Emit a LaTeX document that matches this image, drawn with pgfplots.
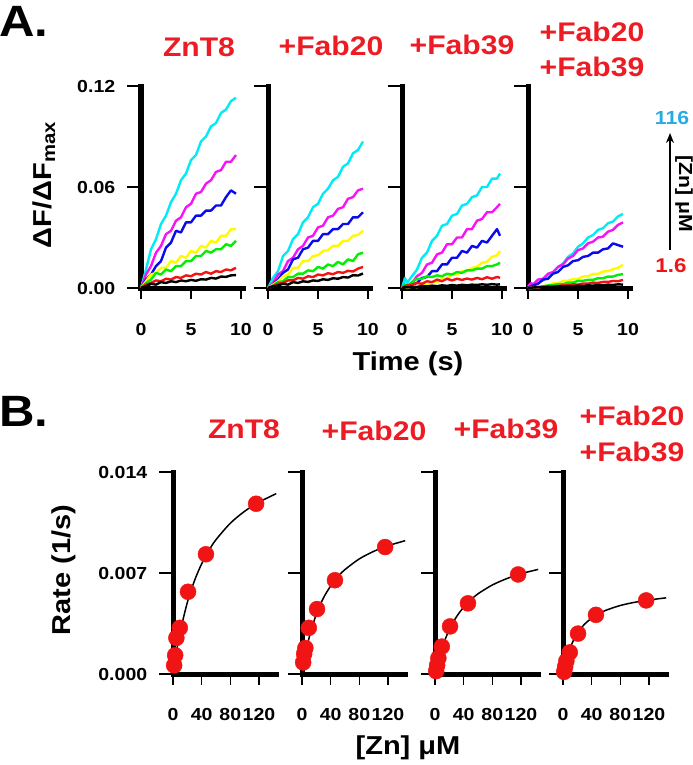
\documentclass[border=0pt]{standalone}
\usepackage{pgfplots}
\pgfplotsset{compat=1.18}
\usepackage{pgfplotstable}
\usepackage{fontspec}
\setmainfont{Liberation Sans}[FakeStretch=1.12]
\usetikzlibrary{arrows.meta}

\definecolor{tcyan}{RGB}{0,235,245}
\definecolor{tmag}{RGB}{245,20,245}
\definecolor{tblue}{RGB}{10,10,235}
\definecolor{tyel}{RGB}{255,250,0}
\definecolor{tgreen}{RGB}{0,240,0}
\definecolor{tred}{RGB}{240,20,20}
\definecolor{ttitle}{RGB}{237,28,36}
\definecolor{tsky}{RGB}{41,171,226}

\newcommand{\fs}[1]{\fontsize{#1}{#1}\selectfont\bfseries}

% time courses (Delta F / Delta F_max in units of 1e-3)
\pgfplotstableread{
t    c    m    b    y    g    r    k
0.0  0    0    0    0    0    0    0
0.5  11   8    5    4    3    2    1
1.0  23   13   8    8    5    3    2.5
1.5  29   21   13   9    9    4.5  2
2.0  38   25   16   12   8    4    3.5
2.5  43   32   24   12   11   5.5  3
3.0  51   34   27   16   10   5    4
3.5  56   40   34   15   13   6.5  3.5
4.0  64   42   33   19   13   6    4.5
4.5  68   48   39   18   16   7.5  4
5.0  76   50   39   22   16   7    4.8
5.5  79   56   43   21   19   8.5  4.3
6.0  87   57   43   25   19   8    5.2
6.5  90   62   46   24   22   9.5  5
7.0  96   64   46   28   21   8.5  6
7.5  98   69   49   27   23   10   5.6
8.0  104  70   49   31   23   9.5  6.8
8.5  106  75   54   31   26   11   6.6
9.0  111  75   58   35   25   10.5 7.5
9.5  113  79   56   35   28   12   7.7
}\tA
\pgfplotstableread{
t    c   m   b   y    g    r    k
0.0  0   0   0   0    0    0    0
0.5  6   3   2   2    1.5  1    1
1.0  10  8   5   4    3.5  2.5  1.5
1.5  19  10  9   7    4    3    2.5
2.0  22  16  11  8    6.5  4.5  2
2.5  29  18  17  12   6.5  4.5  3.5
3.0  32  23  18  12   8.5  6    3
3.5  39  25  23  16   8.5  5.5  4
4.0  42  30  24  16   10.5 7    3.6
4.5  48  31  28  19   10   6.5  4.5
5.0  50  36  28  19.5 12.5 8    4.2
5.5  56  37  32  22   11.5 7.5  5.2
6.0  59  42  32  22.5 14   8.8  4.8
6.5  64  43  35  25   13   8.2  5.8
7.0  66  47  35  25   15.5 9.5  5.5
7.5  72  48  38  28   14   9    6.5
8.0  74  53  38  28   17   10.2 6.2
8.5  80  54  42  31   16   9.8  7.6
9.0  82  58  42  31.5 20   11.5 7.4
9.5  87  59  45  34   21   12.5 8.6
}\tB
\pgfplotstableread{
t    c   m   b   y    g    r    k
0.0  0   0   0   0    0    0    0
0.3  6   2   1   1    2    1    0.5
0.5  3   1   0.5 0    1    1.5  0.3
1.0  7   3   2   1    3.5  2    0.8
1.5  11  7   3   0.5  5.5  3    0.6
2.0  18  9   6   2    5.5  2.5  1.2
2.5  21  14  6.5 1.5  7    4    0.9
3.0  28  15  10  3.5  6.5  3.5  1.4
3.5  31  20  10  3.5  7.5  5    1.1
4.0  37  21  14  5.5  7    4    1.6
4.5  38  26  14  5.5  8.5  5.5  1.3
5.0  43  26  18  8    8    4.5  1.8
5.5  44  30  18  8    9.5  5.5  1.4
6.0  49  30  22  10   9    4.8  1.9
6.5  50  35  21  10   10.5 5.6  1.6
7.0  54  35  25  12   10.5 5    2
7.5  55  40  24  12.5 11.5 6    1.8
8.0  60  41  28  15   11.5 5.2  2.2
8.5  60  45  27  15.5 13   6.4  1.9
9.0  65  45  31  18.5 13   5.5  2.3
9.5  65  48  35  19.5 14   6.6  2
9.8  68  50  31  22   15   6    2.2
}\tC
\pgfplotstableread{
t    c    m    b    y    g    r    k
0.0  0    1    0    0    0    0    0
0.3  1    3    1    0    0    0    0
0.5  0.5  2    1.5  0.5  0    0.5  0.3
1.0  3    5    2.5  0.3  0.5  0.3  0.5
1.5  4.5  5.5  5    1.2  1    0.8  0.4
2.0  7.5  8.5  5.5  1.5  1.5  0.7  0.8
2.5  9    9.5  8.5  2.8  1.8  1.2  0.6
3.0  12.5 12.5 9.5  2.8  2.3  1.1  1
3.5  14.5 14   12.5 4.2  2.3  1.7  0.8
4.0  18.5 17.5 13.5 4.3  3.2  1.6  1.2
4.5  20.5 19   16   5.3  3.3  2.2  1
5.0  24.5 22.5 16.5 5.4  4.2  2    1.4
5.5  26.5 23.5 18.5 6.8  4.3  2.7  1.2
6.0  30   26.5 19   7    4.8  2.6  1.6
6.5  31.5 27.5 21   8.3  4.8  3.2  1.4
7.0  34.5 30   21   8.4  5.8  3    1.8
7.5  35.5 30.5 23   9.8  5.8  3.6  1.6
8.0  38.5 33.5 23.5 10   6.8  3.6  2
8.5  39.5 34.5 26.5 11.2 6.8  4.2  1.8
9.0  42.5 37.5 25.5 12   7.8  4    2.2
9.5  44   39   24.5 13.8 8.2  4.8  2
}\tD

% rates (1e-3 1/s) vs [Zn] (uM)
\pgfplotstableread{
x    a     b     c     d
1.6  0.6   0.8   0.2   0.15
3.0  1.3   1.4   0.6   0.5
4.7  2.5   1.8   1.1   0.9
9.5  3.2   3.2   1.9   1.5
21   5.7   4.5   3.3   2.8
46   8.3   6.5   4.9   4.1
116  11.8  8.8   6.9   5.1
}\tR
% fitted curves
\pgfplotstableread{
x    a     b     c     d
0    0     0     0     0
2.5  0.84  0.76  0.54  0.59
5    1.60  1.42  1.03  1.08
10   2.92  2.53  1.85  1.84
20   4.96  4.15  3.09  2.83
30   6.47  5.28  3.97  3.45
40   7.64  6.10  4.63  3.87
50   8.56  6.74  5.14  4.18
60   9.31  7.24  5.56  4.42
80   10.45 7.98  6.17  4.75
100  11.28 8.50  6.61  4.97
120  11.91 8.89  6.95  5.13
144  12.50 9.24  7.25  5.28
}\tF

\pgfplotsset{
  panel/.style={
    scale only axis, anchor=south west, clip=false,
    axis lines=left,
    axis line style={line width=5bp, -, line cap=rect},
    tick align=outside,
    tick style={line width=1.4bp, black},
    xtick style={/pgfplots/major tick length=11bp},
    ytick style={/pgfplots/major tick length=14bp},
    tick label style={font=\fs{17.5}},
    /pgf/number format/assume math mode=true,
    yticklabel style={xshift=-18bp},
  },
  toprow/.style={panel, width=102bp, height=202bp,
    xmin=0, xmax=10.2, ymin=0, ymax=120,
    xtick={0,5,10}, xticklabels={0,5,10},
    xticklabel style={yshift=-28bp},
    ytick={0,60,120}, yticklabels={,,}},
  botrow/.style={panel, width=103.2bp, height=202bp,
    xmin=0, xmax=144, ymin=0, ymax=14,
    xtick={0,40,80,120}, xticklabels={0,40,80,120},
    xticklabel style={yshift=-27bp},
    ytick={0,7,14}, yticklabels={,,}},
  tr/.style={line width=2.4bp, line join=round},
  pts/.style={only marks, mark=*, mark size=8bp, color=tred},
  fit/.style={black, line width=1.5bp, smooth},
}

\newcommand{\traces}[1]{%
  \addplot[tr, tcyan] table[x=t,y=c]{#1};
  \addplot[tr, tmag] table[x=t,y=m]{#1};
  \addplot[tr, tblue] table[x=t,y=b]{#1};
  \addplot[tr, tyel] table[x=t,y=y]{#1};
  \addplot[tr, tgreen] table[x=t,y=g]{#1};
  \addplot[tr, tred] table[x=t,y=r]{#1};
  \addplot[tr, black] table[x=t,y=k]{#1};
}

\begin{document}
\begin{tikzpicture}
\path[use as bounding box] (0bp,0bp) rectangle (693bp,-765bp);

% ---- row A ----
\begin{axis}[toprow, at={(141bp,-288bp)}, yticklabels={0.00,0.06,0.12}]
\traces{\tA}
\end{axis}
\begin{axis}[toprow, at={(268bp,-288bp)}]
\traces{\tB}
\end{axis}
\begin{axis}[toprow, at={(402bp,-288bp)}]
\traces{\tC}
\end{axis}
\begin{axis}[toprow, at={(528bp,-288bp)}]
\traces{\tD}
\end{axis}

% ---- row B ----
\begin{axis}[botrow, at={(173bp,-674bp)}, yticklabels={0.000,0.007,0.014}]
\addplot[pts] table[x=x,y=a]{\tR};
\addplot[fit] table[x=x,y=a]{\tF};
\end{axis}
\begin{axis}[botrow, at={(302bp,-674bp)}]
\addplot[pts] table[x=x,y=b]{\tR};
\addplot[fit] table[x=x,y=b]{\tF};
\end{axis}
\begin{axis}[botrow, at={(435bp,-674bp)}]
\addplot[pts] table[x=x,y=c]{\tR};
\addplot[fit] table[x=x,y=c]{\tF};
\end{axis}
\begin{axis}[botrow, at={(563bp,-674bp)}]
\addplot[pts] table[x=x,y=d]{\tR};
\addplot[fit] table[x=x,y=d]{\tF};
\end{axis}

% ---- texts ----
\node[anchor=west, font=\fs{44}, inner sep=0pt] at (-1bp,-21bp) {A.};
\node[anchor=west, font=\fs{44}, inner sep=0pt] at (-1bp,-411bp) {B.};

\begin{scope}[every node/.style={text=ttitle, font=\fs{27}, inner sep=0pt}]
\node at (199bp,-47bp) {ZnT8};
\node at (331bp,-46bp) {+Fab20};
\node at (462bp,-45bp) {+Fab39};
\node at (592bp,-32bp) {+Fab20};
\node at (592bp,-67bp) {+Fab39};
\node at (244bp,-429bp) {ZnT8};
\node at (374bp,-431bp) {+Fab20};
\node at (506bp,-429bp) {+Fab39};
\node at (632bp,-416bp) {+Fab20};
\node at (632bp,-452bp) {+Fab39};
\end{scope}

\node[rotate=90, font=\fs{26}, inner sep=0pt] at (44bp,-185bp) {ΔF/ΔF\textsubscript{max}};
\node[rotate=90, font=\fs{26}, inner sep=0pt] at (64bp,-570bp) {Rate (1/s)};
\node[font=\fs{26}, inner sep=0pt] at (408bp,-364bp) {Time (s)};
\node[font=\fs{26}, inner sep=0pt] at (408bp,-748bp) {[Zn] μM};

% concentration legend
\node[text=tsky, font=\fs{19}, inner sep=0pt] at (672bp,-118bp) {116};
\draw[line width=1.5bp, -{Stealth[length=10bp,width=8bp]}] (670bp,-250bp) -- (670bp,-133bp);
\node[rotate=-90, font=\fs{19}, inner sep=0pt] at (684bp,-194bp) {[Zn] μM};
\node[text=tred, font=\fs{20}, inner sep=0pt] at (671bp,-266bp) {1.6};
\end{tikzpicture}
\end{document}
